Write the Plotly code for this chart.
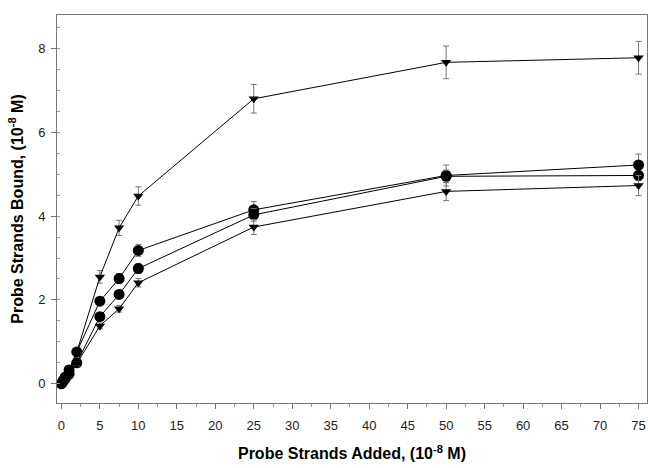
import plotly.graph_objects as go

x_added = [0, 0.25, 0.5, 1, 2, 5, 7.5, 10, 25, 50, 75]

tri_high = [0, 0.07, 0.15, 0.30, 0.75, 2.55, 3.72, 4.48, 6.80, 7.67, 7.78]
tri_high_err = [0, 0, 0, 0.03, 0.05, 0.15, 0.18, 0.22, 0.34, 0.39, 0.39]

circ_high = [0, 0.08, 0.16, 0.33, 0.76, 1.97, 2.51, 3.18, 4.15, 4.97, 5.22]
circ_high_err = [0, 0, 0, 0.03, 0.05, 0.08, 0.12, 0.14, 0.20, 0.25, 0.26]

circ_mid = [0, 0.06, 0.12, 0.23, 0.50, 1.60, 2.13, 2.75, 4.03, 4.95, 4.97]
circ_mid_err = [0, 0, 0, 0.03, 0.05, 0.08, 0.10, 0.12, 0.15, 0.15, 0.12]

tri_low = [0, 0.05, 0.11, 0.21, 0.48, 1.38, 1.79, 2.41, 3.74, 4.59, 4.73]
tri_low_err = [0, 0, 0, 0.03, 0.05, 0.07, 0.08, 0.10, 0.18, 0.22, 0.24]

series = [
    (tri_high, tri_high_err, "triangle-down", 9),
    (circ_high, circ_high_err, "circle", 11),
    (circ_mid, circ_mid_err, "circle", 11),
    (tri_low, tri_low_err, "triangle-down", 9),
]

fig = go.Figure()
for ys, errs, sym, sz in series:
    fig.add_trace(go.Scatter(
        x=x_added, y=ys, mode="lines+markers",
        line=dict(color="black", width=1),
        marker=dict(symbol=sym, size=sz, color="black"),
        error_y=dict(type="data", array=errs, visible=True,
                     color="#777777", thickness=1, width=3),
        showlegend=False,
    ))

font_family = "Liberation Sans, Arial, sans-serif"

fig.update_layout(
    width=648, height=468,
    margin=dict(l=57, r=1, t=15, b=65),
    paper_bgcolor="white", plot_bgcolor="white",
    font=dict(family=font_family, size=12, color="#222222"),
    xaxis=dict(
        range=[-0.57, 76.1], tickmode="array",
        tickvals=list(range(0, 80, 5)),
        showgrid=False, zeroline=False,
        showline=True, linecolor="#777777", linewidth=1, mirror=True,
        ticks="outside", ticklen=5, tickcolor="#777777",
        minor=dict(dtick=2.5, ticks="outside", ticklen=3, tickcolor="#999999", showgrid=False),
        tickfont=dict(size=13),
        ticklabelstandoff=5,
        title=dict(text="<b>Probe Strands Added, (10<sup>-8</sup> M)</b>",
                   font=dict(size=16, color="black"), standoff=16),
    ),
    yaxis=dict(
        range=[-0.46, 8.8], tickmode="array",
        tickvals=[0, 2, 4, 6, 8],
        showgrid=False, zeroline=False,
        showline=True, linecolor="#777777", linewidth=1, mirror=True,
        ticks="outside", ticklen=5, tickcolor="#777777",
        minor=dict(dtick=0.5, ticks="inside", ticklen=3, tickcolor="#999999", showgrid=False),
        tickfont=dict(size=13),
        ticklabelstandoff=3,
        title=dict(text="<b>Probe Strands Bound, (10<sup>-8</sup> M)</b>",
                   font=dict(size=16, color="black"), standoff=10),
    ),
)

fig.write_html("out.html")
